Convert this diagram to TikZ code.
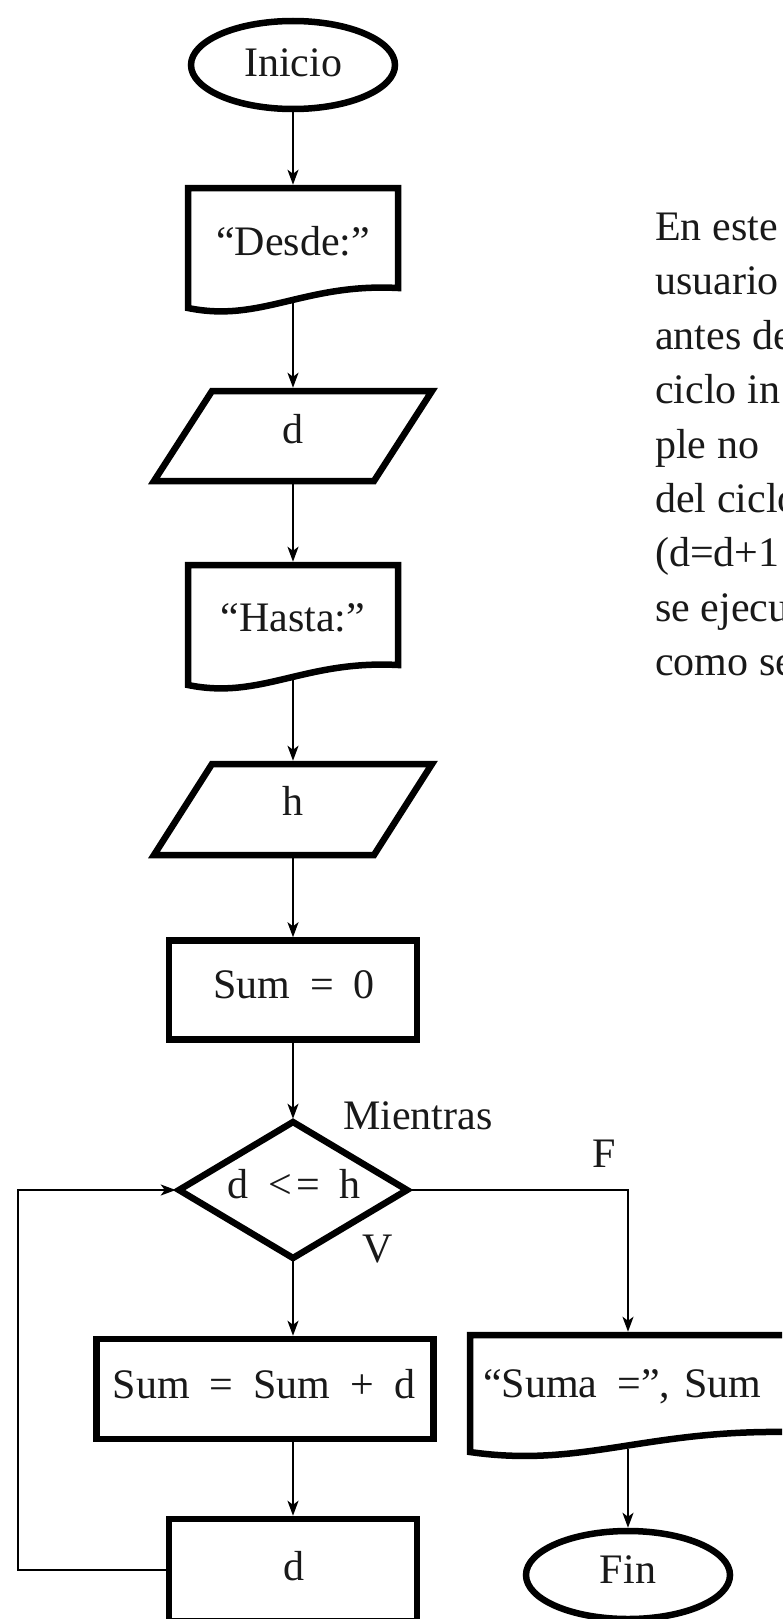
\documentclass[tikz,border=0pt]{standalone}
\usepackage{fontspec}
\setmainfont{Liberation Serif}
\usetikzlibrary{arrows.meta,shapes.geometric}
\newcommand{\fceq}{\hspace{20pt}=\hspace{20pt}}
\newcommand{\fcplus}{\hspace{20pt}+\hspace{20pt}}
\begin{document}
\begin{tikzpicture}[x=1pt,y=-1pt,
  shapeline/.style={line width=6.5pt, line join=miter, draw=black},
  anchorbox/.style={rectangle, inner sep=0pt, outer sep=3.25pt, draw=none},
  termbox/.style={ellipse, draw=black, line width=6.5pt, inner sep=0pt, minimum width=204pt, minimum height=88pt},
  procbox/.style={rectangle, draw=black, line width=6.5pt, inner sep=0pt},
  conn/.style={line width=1.8pt, -{Stealth[length=15pt,width=11pt,inset=4pt]}},
  txt/.style={font=\fontsize{42}{50}\selectfont, inner sep=0pt, anchor=base, text=black!90},
  ]
\clip (0,0) rectangle (782,1619);
\fill[white] (0,0) rectangle (782,1619);

% Inicio
\node[termbox] (inicio) at (293,65) {};
\node[txt] (tInicio) at (293,77) {Inicio};

% "Desde:" document
\draw[shapeline] (188,188) -- (398,188) -- (398,288) .. controls (304,283) and (261,323) .. (188,308) -- cycle;
\node[anchorbox, minimum width=210pt, minimum height=112pt] (desde) at (293,244) {};
\node[txt] (tDesde) at (293,255) {“Desde:”};

% d input
\draw[shapeline] (154,481) -- (374,481) -- (432,391) -- (212,391) -- cycle;
\node[anchorbox, minimum width=220pt, minimum height=90pt] (inD) at (293,436) {};
\node[txt] (tD) at (293,443) {d};

% "Hasta:" document
\draw[shapeline] (188,565) -- (398,565) -- (398,665) .. controls (304,660) and (261,700) .. (188,685) -- cycle;
\node[anchorbox, minimum width=210pt, minimum height=112pt] (hasta) at (293,621) {};
\node[txt] (tHasta) at (293,631) {“Hasta:”};

% h input
\draw[shapeline] (154,855) -- (374,855) -- (432,764) -- (212,764) -- cycle;
\node[anchorbox, minimum width=220pt, minimum height=91pt] (inH) at (293,809.5) {};
\node[txt] (tH) at (293,815) {h};

% Sum = 0
\node[procbox, minimum width=248pt, minimum height=99pt] (sum0) at (293,990) {};
\node[txt] (tSum0) at (294,998) {Sum\fceq 0};

% decision
\draw[shapeline] (293,1122) -- (407,1190) -- (293,1258) -- (179,1190) -- cycle;
\node[anchorbox, minimum width=228pt, minimum height=136pt] (cond) at (293,1190) {};
\node[txt] (tCond) at (294,1198) {d\hspace{20pt}<\hspace{4pt}=\hspace{19pt}h};
\node[txt, anchor=base west] (lMientras) at (343,1129) {Mientras};
\node[txt] (lF) at (604,1167) {F};
\node[txt] (lV) at (378,1262) {V};

% Sum = Sum + d
\node[procbox, minimum width=337pt, minimum height=100pt] (sumd) at (265,1389) {};
\node[txt] (tSumd) at (264,1398) {Sum\fceq Sum\fcplus d};

% d (bottom)
\node[procbox, minimum width=248pt, minimum height=102pt] (dbox) at (293,1570) {};
\node[txt] (tDbox) at (294,1580) {d};

% "Suma =", Sum document
\draw[shapeline] (470,1335) -- (786,1335) -- (786,1432) .. controls (644,1430) and (581,1468) .. (470,1452) -- cycle;
\node[anchorbox, minimum width=316pt, minimum height=111pt] (suma) at (628,1390.5) {};
\node[txt, anchor=base west] (tSuma) at (483,1397) {“Suma\hspace{20pt}=”,\hspace{14pt}Sum};

% Fin
\node[termbox] (fin) at (628,1575) {};
\node[txt] (tFin) at (628,1583) {Fin};

% loop corner
\coordinate (loopx) at (18,0);

% connectors
\draw[conn] (inicio.south) -- (desde.north);
\draw[conn] (desde.south) -- (inD.north);
\draw[conn] (inD.south) -- (hasta.north);
\draw[conn] (hasta.south) -- (inH.north);
\draw[conn] (inH.south) -- (sum0.north);
\draw[conn] (sum0.south) -- (cond.north);
\draw[conn] (cond.south) -- (cond.south |- sumd.north);
\draw[conn] (sumd.south -| dbox.north) -- (dbox.north);
\draw[conn] (cond.east) -| (suma.north);
\draw[conn] (suma.south) -- (fin.north);
\draw[conn] (dbox.west) -- (dbox.west -| loopx) |- (cond.west);

% side text (cut by the picture's right edge, as in the reference)
\node[txt, anchor=base west] (p1) at (655,240) {En este};
\node[txt, anchor=base west] (p2) at (655,294) {usuario};
\node[txt, anchor=base west] (p3) at (655,349) {antes de};
\node[txt, anchor=base west] (p4) at (655,403) {ciclo in};
\node[txt, anchor=base west] (p5) at (655,458) {ple no};
\node[txt, anchor=base west] (p6) at (655,512) {del ciclo};
\node[txt, anchor=base west] (p7) at (655,566) {(d=d+1};
\node[txt, anchor=base west] (p8) at (655,621) {se ejecu};
\node[txt, anchor=base west] (p9) at (655,675) {como se};
\end{tikzpicture}
\end{document}
